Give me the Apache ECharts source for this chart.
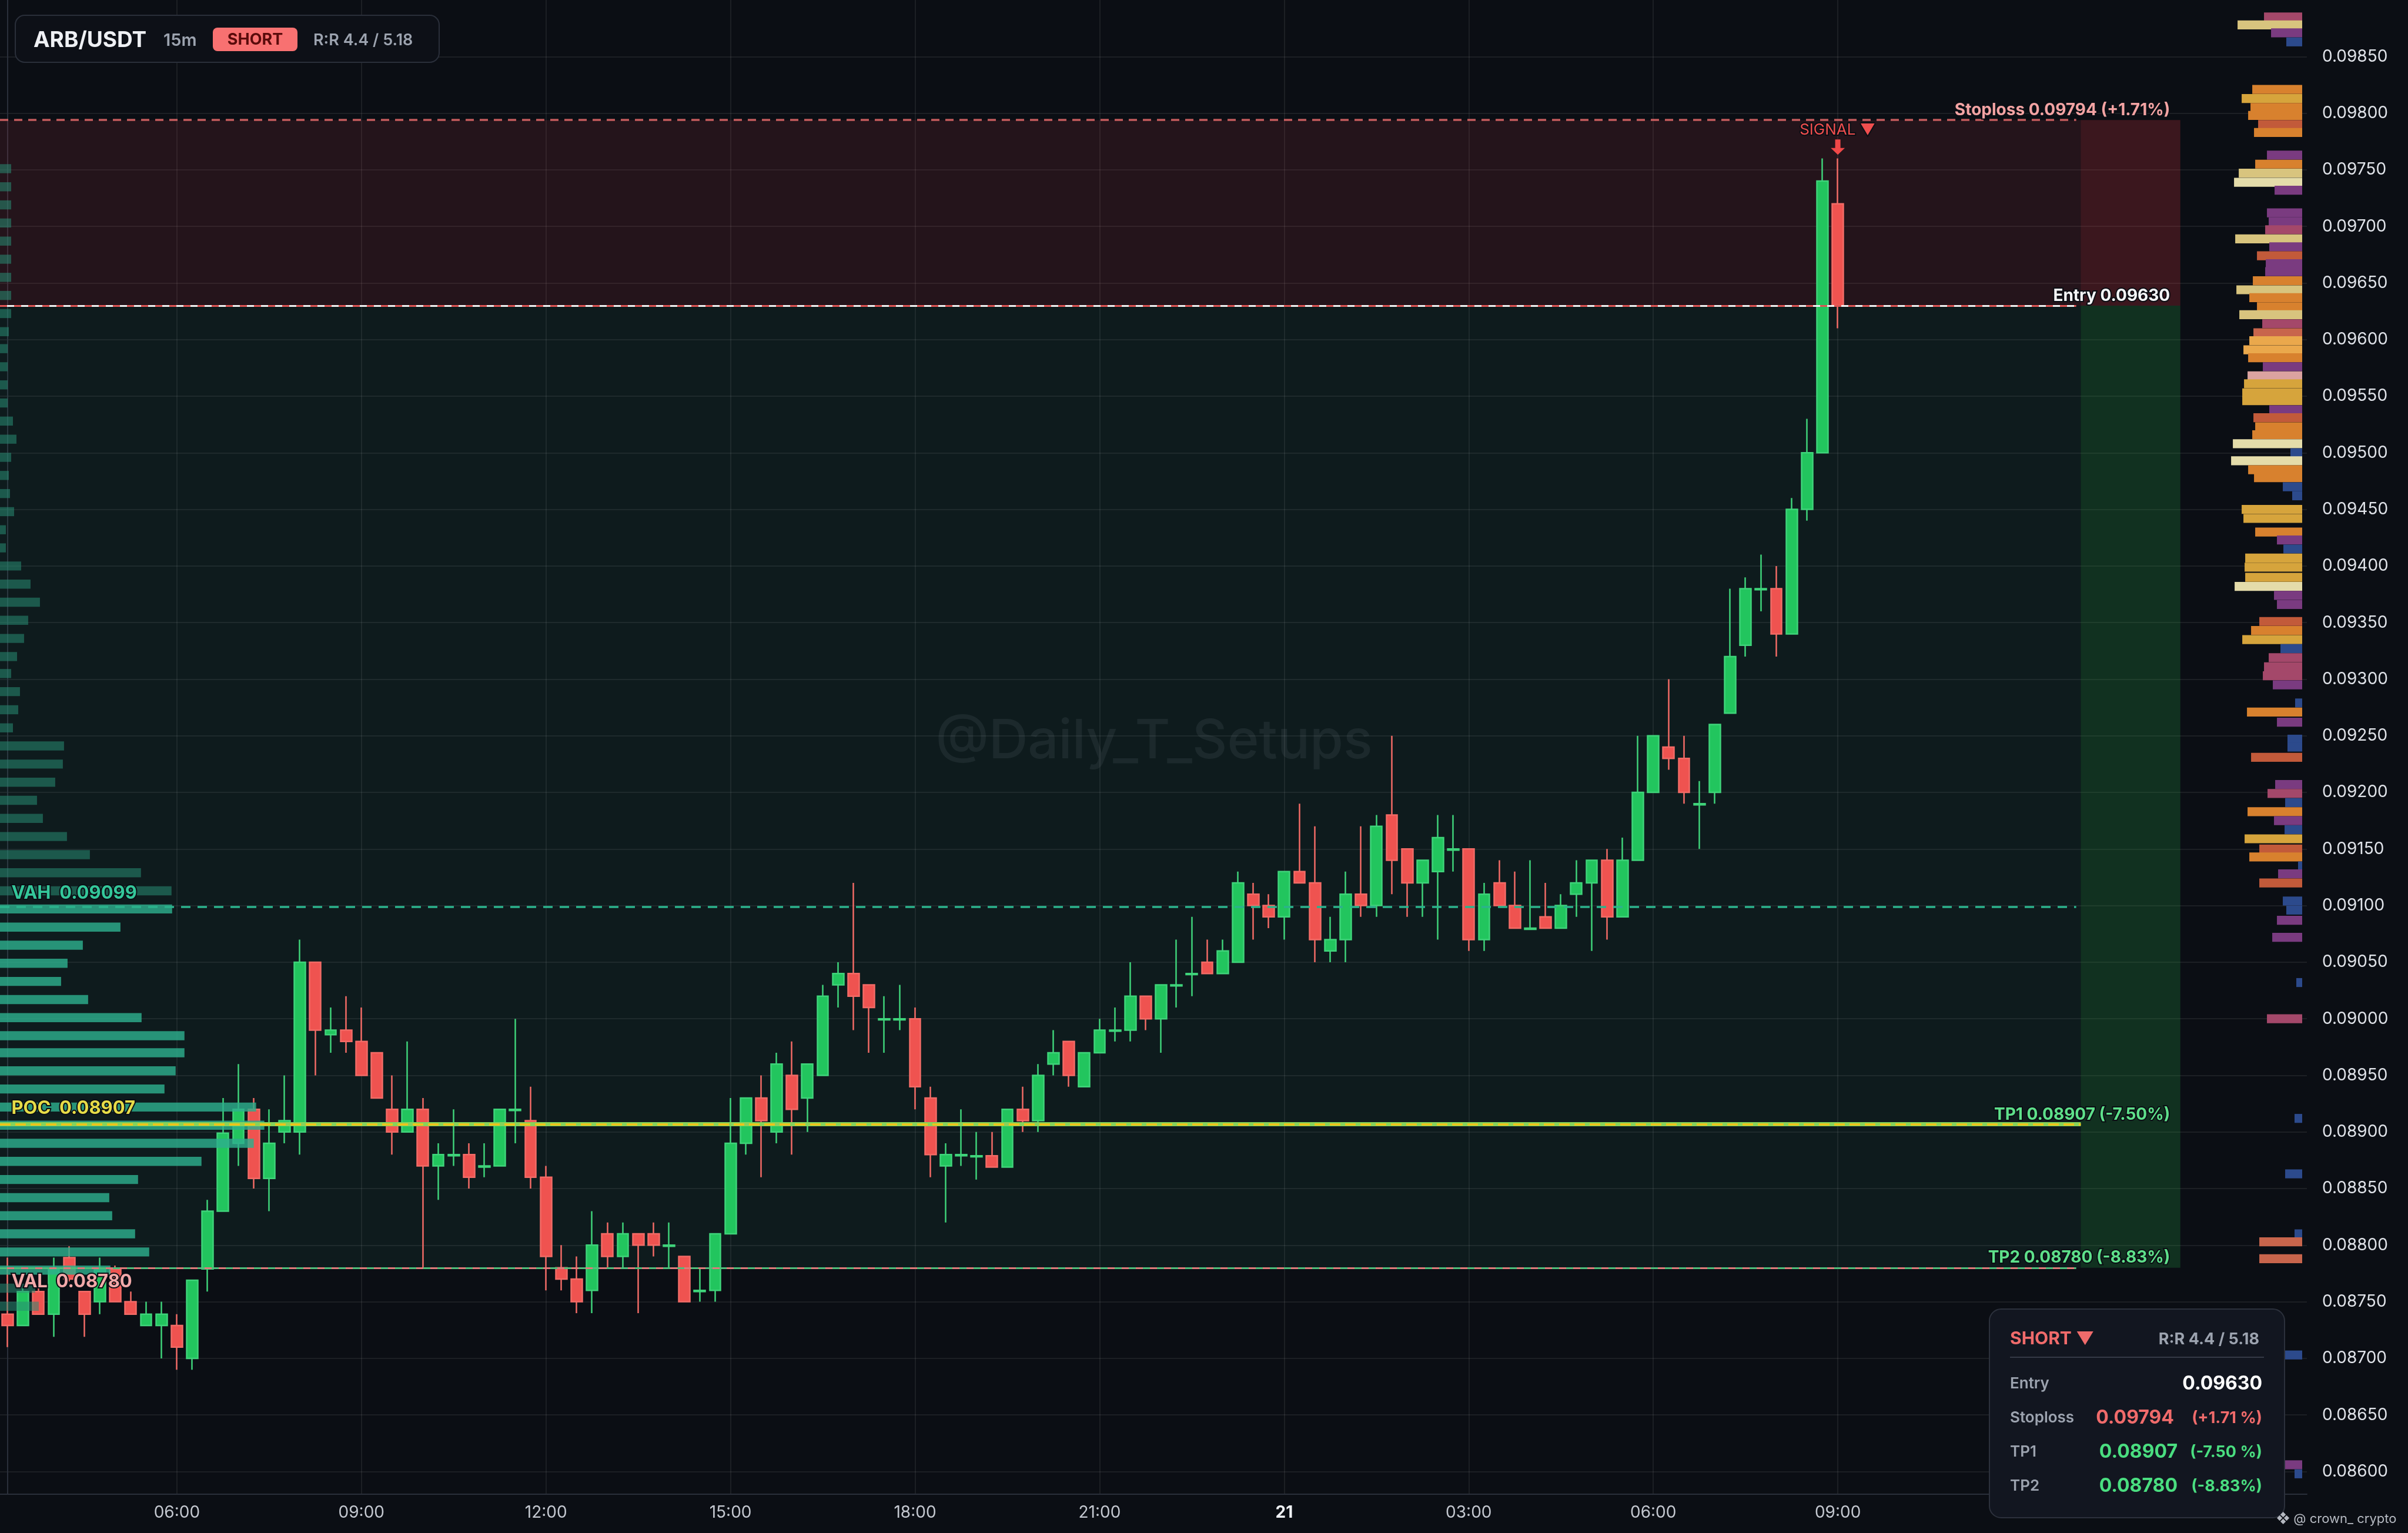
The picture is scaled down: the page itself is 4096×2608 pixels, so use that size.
<!DOCTYPE html>
<html><head><meta charset="utf-8">
<script src="https://cdn.jsdelivr.net/npm/echarts@6/dist/echarts.min.js"></script>
<style>html,body{margin:0;padding:0;background:#0b0e14;}#c{width:4096px;height:2608px;}</style>
</head><body><div id="c"></div>
<script>
// ---------- DATA ----------
const opens = [
0.08739,0.08729,0.08759,0.08739,0.08789,0.08759,0.08750,0.08779,0.08750,0.08729,
0.08729,0.08729,0.08700,0.08779,0.08830,0.08890,0.08920,0.08859,0.08900,0.08900,
0.09050,0.08986,0.08990,0.08980,0.08970,0.08920,0.08900,0.08920,0.08870,0.08879,
0.08880,0.08869,0.08870,0.08919,0.08910,0.08860,0.08780,0.08770,0.08760,0.08810,
0.08790,0.08810,0.08810,0.08799,0.08790,0.08759,0.08760,0.08810,0.08890,0.08930,
0.08900,0.08950,0.08930,0.08950,0.09030,0.09040,0.09030,0.08999,0.08999,0.09000,
0.08930,0.08870,0.08879,0.08878,0.08879,0.08869,0.08920,0.08910,0.08960,0.08980,
0.08940,0.08970,0.08989,0.08990,0.09020,0.09000,0.09029,0.09039,0.09050,0.09040,
0.09050,0.09110,0.09100,0.09090,0.09130,0.09120,0.09060,0.09070,0.09110,0.09100,
0.09180,0.09150,0.09120,0.09130,0.09149,0.09150,0.09070,0.09120,0.09100,0.09079,
0.09090,0.09080,0.09110,0.09120,0.09140,0.09090,0.09140,0.09200,0.09240,0.09230,
0.09189,0.09200,0.09270,0.09330,0.09379,0.09380,0.09340,0.09450,0.09500,0.09720];
const closes = [
0.08729,0.08759,0.08739,0.08779,0.08770,0.08739,0.08779,0.08750,0.08739,0.08739,
0.08739,0.08710,0.08769,0.08830,0.08899,0.08920,0.08859,0.08890,0.08910,0.09050,
0.08990,0.08990,0.08980,0.08950,0.08930,0.08900,0.08920,0.08870,0.08880,0.08880,
0.08860,0.08870,0.08920,0.08920,0.08860,0.08790,0.08770,0.08750,0.08800,0.08790,
0.08810,0.08800,0.08800,0.08800,0.08750,0.08760,0.08810,0.08890,0.08930,0.08910,
0.08960,0.08920,0.08960,0.09020,0.09040,0.09020,0.09010,0.09000,0.09000,0.08940,
0.08880,0.08880,0.08880,0.08879,0.08869,0.08920,0.08910,0.08950,0.08970,0.08950,
0.08970,0.08990,0.08990,0.09020,0.09000,0.09030,0.09030,0.09040,0.09040,0.09060,
0.09120,0.09100,0.09090,0.09130,0.09120,0.09070,0.09070,0.09110,0.09100,0.09170,
0.09140,0.09120,0.09140,0.09160,0.09150,0.09070,0.09110,0.09100,0.09080,0.09080,
0.09080,0.09100,0.09120,0.09140,0.09090,0.09140,0.09200,0.09250,0.09230,0.09200,
0.09190,0.09260,0.09320,0.09380,0.09380,0.09340,0.09450,0.09500,0.09740,0.09630];
const lows = [
0.08710,0.08729,0.08739,0.08719,0.08768,0.08719,0.08739,0.08750,0.08739,0.08729,
0.08700,0.08690,0.08690,0.08759,0.08830,0.08870,0.08850,0.08830,0.08890,0.08880,
0.08950,0.08970,0.08970,0.08950,0.08930,0.08880,0.08900,0.08780,0.08840,0.08870,
0.08850,0.08860,0.08870,0.08890,0.08850,0.08760,0.08760,0.08740,0.08740,0.08780,
0.08780,0.08740,0.08790,0.08780,0.08750,0.08750,0.08750,0.08810,0.08880,0.08860,
0.08890,0.08880,0.08900,0.08950,0.09010,0.08990,0.08970,0.08970,0.08990,0.08920,
0.08860,0.08820,0.08870,0.08858,0.08869,0.08869,0.08900,0.08900,0.08950,0.08940,
0.08940,0.08970,0.08980,0.08980,0.08990,0.08970,0.09010,0.09020,0.09040,0.09040,
0.09050,0.09070,0.09080,0.09070,0.09120,0.09050,0.09050,0.09050,0.09090,0.09090,
0.09110,0.09090,0.09090,0.09070,0.09130,0.09060,0.09060,0.09100,0.09080,0.09080,
0.09080,0.09080,0.09090,0.09060,0.09070,0.09090,0.09140,0.09200,0.09220,0.09190,
0.09150,0.09190,0.09270,0.09320,0.09360,0.09320,0.09340,0.09440,0.09500,0.09610];
const highs = [
0.08789,0.08762,0.08775,0.08789,0.08799,0.08759,0.08789,0.08782,0.08759,0.08750,
0.08750,0.08739,0.08769,0.08840,0.08930,0.08960,0.08930,0.08920,0.08950,0.09070,
0.09050,0.09010,0.09020,0.09010,0.08970,0.08950,0.08980,0.08930,0.08890,0.08920,
0.08890,0.08890,0.08920,0.09000,0.08940,0.08870,0.08800,0.08790,0.08830,0.08820,
0.08820,0.08810,0.08820,0.08820,0.08790,0.08780,0.08810,0.08930,0.08930,0.08950,
0.08970,0.08980,0.08960,0.09030,0.09050,0.09120,0.09030,0.09020,0.09030,0.09010,
0.08940,0.08890,0.08920,0.08900,0.08900,0.08920,0.08940,0.08960,0.08990,0.08980,
0.08970,0.09000,0.09010,0.09050,0.09020,0.09030,0.09070,0.09090,0.09070,0.09070,
0.09130,0.09120,0.09110,0.09130,0.09190,0.09170,0.09090,0.09130,0.09170,0.09180,
0.09250,0.09150,0.09140,0.09180,0.09180,0.09150,0.09120,0.09140,0.09130,0.09140,
0.09120,0.09110,0.09140,0.09140,0.09150,0.09160,0.09250,0.09250,0.09300,0.09250,
0.09210,0.09260,0.09380,0.09390,0.09410,0.09400,0.09460,0.09530,0.09760,0.09760];

// price-axis tick labels
const yTicks = [0.0860,0.0865,0.0870,0.0875,0.0880,0.0885,0.0890,0.0895,0.0900,0.0905,0.0910,0.0915,0.0920,
                0.0925,0.0930,0.0935,0.0940,0.0945,0.0950,0.0955,0.0960,0.0965,0.0970,0.0975,0.0980,0.0985];

// trade levels
const stoploss = 0.09794, entry = 0.09630, tp1 = 0.08907, tp2 = 0.08780;
const vah = 0.09099, poc = 0.08907, val = 0.08780;

// left volume profile (price bin, volume)
const lpPrice = [0.09751,0.09735,0.09719,0.09703,0.09687,0.09671,0.09655,0.09639,0.09623,0.09607,
0.09592,0.09576,0.09560,0.09544,0.09528,0.09512,0.09496,0.09480,0.09464,0.09448,
0.09432,0.09416,0.09400,0.09384,0.09368,0.09352,0.09336,0.09320,0.09305,0.09289,
0.09273,0.09257,0.09241,0.09225,0.09209,0.09193,0.09177,0.09161,0.09145,0.09129,
0.09113,0.09097,0.09081,0.09065,0.09049,0.09033,0.09017,0.09001,0.08985,0.08970,
0.08954,0.08938,0.08922,0.08906,0.08890,0.08874,0.08858,0.08842,0.08826,0.08810,
0.08794,0.08778,0.08762,0.08746];
const lpVol = [19,19,19,19,19,19,19,19,19,15,
13,13,13,13,22,28,19,15,17,24,
10,10,36,52,68,48,41,29,19,34,
31,22,109,107,94,63,73,114,153,240,
292,293,205,141,115,104,150,241,314,314,
299,280,436,450,432,343,235,186,191,230,
254,188,60,66];

// right heat profile (price, size, colour key)
const rpPrice = [0.09885,0.09878,0.09871,0.09863,0.09821,0.09813,0.09805,0.09798,0.09790,0.09783,
0.09763,0.09755,0.09747,0.09739,0.09732,0.09712,0.09704,0.09697,0.09689,0.09682,
0.09674,0.09667,0.09660,0.09652,0.09644,0.09637,0.09629,0.09622,0.09614,0.09606,
0.09599,0.09591,0.09584,0.09576,0.09568,0.09561,0.09553,0.09546,0.09538,0.09531,
0.09523,0.09516,0.09508,0.09500,0.09493,0.09485,0.09478,0.09470,0.09462,0.09450,
0.09442,0.09430,0.09423,0.09415,0.09407,0.09399,0.09390,0.09382,0.09374,0.09366,
0.09351,0.09343,0.09335,0.09327,0.09319,0.09311,0.09303,0.09295,0.09279,0.09271,
0.09262,0.09247,0.09240,0.09231,0.09207,0.09199,0.09191,0.09183,0.09175,0.09167,
0.09159,0.09150,0.09143,0.09135,0.09128,0.09120,0.09104,0.09096,0.09087,0.09072,
0.09032,0.09000,0.08912,0.08863,0.08810,0.08803,0.08788,0.08703,0.08606,0.08598];
const rpSize = [65,110,53,27,85,103,88,92,75,82,
60,80,108,116,47,60,57,63,114,56,
77,62,63,84,112,90,77,107,68,83,
90,100,92,67,93,99,102,102,56,83,
80,85,118,20,121,92,82,33,17,103,
100,80,43,32,97,98,97,115,48,43,
73,87,102,37,57,65,67,50,12,94,
43,25,25,87,46,59,29,93,48,30,
98,73,90,7,41,73,33,27,43,51,
10,60,13,29,13,73,73,30,30,13];
const rpKey = ['K','T','P','B','O','G','O','O','R','O',
'P','O','T','L','P','P','P','K','T','P',
'R','P','P','O','T','O','O','T','K','S',
'Y','Y','O','P','Q','G','G','G','P','R',
'O','O','L','B','L','O','O','B','B','G',
'G','O','P','B','G','G','G','L','P','P',
'R','O','G','B','K','K','K','P','B','O',
'P','B','B','R','P','K','B','O','P','B',
'G','R','O','B','P','R','B','B','P','P',
'B','K','B','B','B','S','S','B','P','B'];

// ---------- BUILD ----------
const palette = {T:'#d8c47e',L:'#e4dcaa',G:'#d6a43c',O:'#d8812e',R:'#c25a3a',P:'#7a3b80',
                 K:'#a4486a',B:'#2c4a8c',S:'#c8654c',Y:'#eaa84c',Q:'#dba3a0'};
const NCAT = 150;
const categories = [];
for (let i = 0; i < NCAT; i++) {
  const m = 195 + 15 * i, d = Math.floor(m / 1440), mm = m % 1440;
  categories.push(mm === 0 ? String(20 + d) :
    String(Math.floor(mm / 60)).padStart(2, '0') + ':' + String(mm % 60).padStart(2, '0'));
}
const lastIdx = opens.length - 1;
const showIdx = (idx) => idx >= 11 && idx <= lastIdx && (idx - 11) % 12 === 0;
const candleData = opens.map((o, i) => [o, closes[i], lows[i], highs[i]]);
const X0 = -0.5, XE = 134.5, XB0 = 134.8, XB1 = 141.27;

function profileRender(binH, off) {
  return function (params, api) {
    const v = api.value(0), p = api.value(1);
    const a = api.coord([off, p]), b = api.coord([off + v, p]);
    const h = api.size([0, binH])[1];
    return {type: 'rect', shape: {x: Math.min(a[0], b[0]), y: a[1] - h / 2, width: Math.abs(b[0] - a[0]), height: h},
            style: {fill: api.visual('color')}};
  };
}
const lpData = lpVol.map((v, i) => ({value: [v, lpPrice[i]],
  itemStyle: {color: (lpPrice[i] <= vah && lpPrice[i] >= val - 0.00002) ? 'rgba(45,175,140,0.82)' : 'rgba(40,140,115,0.55)'}}));
const rpData = rpSize.map((v, i) => ({value: [v, rpPrice[i]], itemStyle: {color: palette[rpKey[i]], opacity: 0.92}}));

function hline(y, x1, x2, style) {
  return [{coord: [x1, y], lineStyle: style}, {coord: [x2, y], lineStyle: style}];
}
const outline = {textBorderColor: '#0b0e14', textBorderWidth: 4};
function lbl(x, y, text, color, align, dy, dx, size, weight) {
  return {coord: [x, y], label: Object.assign({show: true, position: [0, 0], align: align, verticalAlign: 'middle',
    offset: [dx, dy], formatter: text, color: color, fontSize: size || 28, fontWeight: weight || 'bold',
    fontFamily: 'Inter'}, outline)};
}
const FONT = 'Inter';

const option = {
  backgroundColor: '#0b0e14',
  animation: false,
  grid: {left: -3, right: 172, top: 0, bottom: 66},
  xAxis: [
    {type: 'category', data: categories, boundaryGap: true,
     axisLine: {show: true, lineStyle: {color: '#2a2f3a', width: 2}},
     axisTick: {show: false, interval: showIdx, alignWithLabel: true},
     axisLabel: {interval: showIdx, color: '#c4c8d0', fontSize: 28, fontFamily: FONT, margin: 18,
                 formatter: (v) => v === '21' ? '{b|21}' : v,
                 rich: {b: {fontWeight: 'bold', color: '#f0f2f6', fontSize: 28, fontFamily: FONT}}},
     splitLine: {show: true, interval: showIdx, alignWithLabel: true, lineStyle: {color: 'rgba(255,255,255,0.07)', width: 2}}},
    {type: 'value', min: -0.5, max: NCAT - 0.5, show: false},
    {type: 'value', min: 0, max: 3927, show: false},
    {type: 'value', min: 0, max: 3927, inverse: true, show: false}
  ],
  yAxis: {type: 'value', position: 'right', min: 0.0858, max: 0.0990, scale: true,
    axisLine: {show: true, lineStyle: {color: '#2a2f3a', width: 2}},
    axisTick: {show: false, customValues: yTicks},
    axisLabel: {customValues: yTicks, formatter: (v) => v.toFixed(5), color: '#e0e3e9', fontSize: 28,
                fontFamily: FONT, margin: 26},
    splitLine: {show: true, lineStyle: {color: 'rgba(255,255,255,0.07)', width: 2}}},
  series: [
    { // zones
      type: 'line', xAxisIndex: 1, data: [[-10, 0.09]], symbol: 'none', lineStyle: {opacity: 0}, z: 1, silent: true,
      markArea: {silent: true, data: [
        [{coord: [X0, entry], itemStyle: {color: 'rgba(205,60,75,0.13)'}}, {coord: [XB0, stoploss]}],
        [{coord: [XB0, entry], itemStyle: {color: 'rgba(230,60,70,0.22)'}}, {coord: [XB1, stoploss]}],
        [{coord: [X0, tp2], itemStyle: {color: 'rgba(60,200,150,0.07)'}}, {coord: [XB0, entry]}],
        [{coord: [XB0, tp2], itemStyle: {color: 'rgba(45,190,80,0.20)'}}, {coord: [XB1, entry]}]
      ]}
    },
    { // candles
      type: 'candlestick', data: candleData, z: 3, barWidth: '74%',
      itemStyle: {color: '#22c55e', color0: '#ef5350', borderColor: '#3fd37a', borderColor0: '#f26b66', borderWidth: 2.5},
      markLine: {silent: true, symbol: ['none', 'none'], data: [{yAxis: entry}],
        lineStyle: {color: '#ef4444', type: 'dotted', width: 2.5},
        label: {show: true, position: 'end', distance: 2, formatter: '0.09630', color: '#ffffff', fontSize: 28,
                fontFamily: FONT, backgroundColor: '#ef4444', borderRadius: 5, padding: [5, 16, 4, 24]}}
    },
    { // left volume profile
      type: 'custom', xAxisIndex: 2, renderItem: profileRender(0.00008, 0), data: lpData, z: 4, silent: true,
      encode: {x: 0, y: 1}
    },
    { // right heat profile
      type: 'custom', xAxisIndex: 3, renderItem: profileRender(0.000079, 8), data: rpData, z: 4, silent: true,
      encode: {x: 0, y: 1}
    },
    { // lines + labels
      type: 'line', xAxisIndex: 1, data: [[-10, 0.09]], symbol: 'none', lineStyle: {opacity: 0}, z: 6, silent: true,
      markLine: {silent: true, symbol: ['none', 'none'], label: {show: false}, data: [
        hline(stoploss, X0, XE, {color: 'rgba(240,110,110,0.8)', width: 3.5, type: [14, 10]}),
        hline(entry, X0, XE, {color: '#e05555', width: 3, type: [12, 12]}),
        hline(entry, X0, XE, {color: '#f2f2f2', width: 3, type: [12, 12], dashOffset: 12}),
        hline(vah, X0, XE, {color: '#2bb38c', width: 3.5, type: [16, 12]}),
        hline(poc, X0, XB0, {color: '#86d35a', width: 7, type: 'solid'}),
        hline(poc, X0, XB0, {color: '#f2c318', width: 3.5, type: [18, 8]}),
        hline(tp2, X0, XE, {color: '#4fbf7a', width: 3, type: [12, 12]}),
        hline(tp2, X0, XE, {color: '#e07a7a', width: 3, type: [12, 12], dashOffset: 12})
      ]},
      markPoint: {silent: true, symbol: 'circle', symbolSize: 1, itemStyle: {color: 'rgba(0,0,0,0)'}, data: [
        lbl(XB1, stoploss, 'Stoploss 0.09794 (+1.71%)', '#f3a3a3', 'right', -16, -17, 28),
        lbl(XB1, entry, 'Entry 0.09630', '#f5f6f8', 'right', -16, -17, 28),
        lbl(XB1, tp1, 'TP1 0.08907 (-7.50%)', '#5ee08a', 'right', -15, -17, 28),
        lbl(XB1, tp2, 'TP2 0.08780 (-8.83%)', '#5ee08a', 'right', -17, -17, 28),
        lbl(X0, vah, 'VAH  0.09099', '#34c79a', 'left', -22, 20, 31),
        lbl(X0, poc, 'POC  0.08907', '#e6dc48', 'left', -26, 20, 31),
        lbl(X0, val, 'VAL  0.08780', '#f2a9a9', 'left', 24, 20, 31),
        lbl(lastIdx, 0.09785, 'SIGNAL ▼', '#f04e4e', 'center', 0, 0, 26, 'normal'),
        {coord: [lastIdx, 0.09770], symbol: 'path://M5,0 L11,0 L11,11 L16,11 L8,20 L0,11 L5,11 Z',
         symbolSize: [24, 26], itemStyle: {color: '#f04848'}, label: {show: false}}
      ]}
    }
  ],
  graphic: [
    {type: 'text', x: 1963, y: 1262, z: 0, silent: true,
     style: {text: '@Daily_T_Setups', font: '500 92px Inter', fill: 'rgba(200,225,225,0.08)',
             align: 'center', verticalAlign: 'middle', textAlign: 'center', textVerticalAlign: 'middle'}},
    {type: 'group', x: 26, y: 26, z: 100, children: [
      {type: 'rect', z: 100, shape: {x: 0, y: 0, width: 721, height: 80, r: 16}, style: {fill: '#0d1017', stroke: '#2a2f3a', lineWidth: 2}},
      {type: 'text', z: 101, x: 31, y: 43, style: {text: 'ARB/USDT', font: 'bold 37px Inter', fill: '#eef0f4', verticalAlign: 'middle', textVerticalAlign: 'middle'}},
      {type: 'text', z: 101, x: 252, y: 43, style: {text: '15m', font: '600 29px Inter', fill: '#9ca3af', verticalAlign: 'middle', textVerticalAlign: 'middle'}},
      {type: 'rect', z: 101, shape: {x: 336, y: 21, width: 144, height: 40, r: 8}, style: {fill: '#f87171'}},
      {type: 'text', z: 102, x: 408, y: 42, style: {text: 'SHORT', font: 'bold 27px Inter', fill: '#5a0b0b', align: 'center', verticalAlign: 'middle', textAlign: 'center', textVerticalAlign: 'middle'}},
      {type: 'text', z: 101, x: 507, y: 43, style: {text: 'R:R 4.4 / 5.18', font: '600 27px Inter', fill: '#9ca3af', verticalAlign: 'middle', textVerticalAlign: 'middle'}}
    ]},
    {type: 'group', x: 3384, y: 2227, z: 100, children: [
      {type: 'rect', z: 100, shape: {x: 0, y: 0, width: 502, height: 355, r: 20}, style: {fill: '#121620', stroke: '#2c313c', lineWidth: 2}},
      {type: 'text', z: 101, x: 35, y: 51, style: {text: 'SHORT ▼', font: 'bold 30px Inter', fill: '#f06b6b', verticalAlign: 'middle', textVerticalAlign: 'middle'}},
      {type: 'text', z: 101, x: 459, y: 52, style: {text: 'R:R 4.4 / 5.18', font: 'bold 27px Inter', fill: '#9ca3af', align: 'right', textAlign: 'right', verticalAlign: 'middle', textVerticalAlign: 'middle'}},
      {type: 'line', z: 101, shape: {x1: 35, y1: 82, x2: 467, y2: 82}, style: {stroke: '#353a46', lineWidth: 2}},
      {type: 'text', z: 101, x: 35, y: 127, style: {text: 'Entry', font: '600 26px Inter', fill: '#9ca3af', verticalAlign: 'middle', textVerticalAlign: 'middle'}},
      {type: 'text', z: 101, x: 464, y: 127, style: {text: '0.09630', font: 'bold 32px Inter', fill: '#ffffff', align: 'right', textAlign: 'right', verticalAlign: 'middle', textVerticalAlign: 'middle'}},
      {type: 'text', z: 101, x: 35, y: 185, style: {text: 'Stoploss', font: '600 26px Inter', fill: '#9ca3af', verticalAlign: 'middle', textVerticalAlign: 'middle'}},
      {type: 'text', z: 101, x: 314, y: 185, style: {text: '0.09794', font: 'bold 32px Inter', fill: '#f06b6b', align: 'right', textAlign: 'right', verticalAlign: 'middle', textVerticalAlign: 'middle'}},
      {type: 'text', z: 101, x: 464, y: 186, style: {text: '(+1.71 %)', font: 'bold 27px Inter', fill: '#f06b6b', align: 'right', textAlign: 'right', verticalAlign: 'middle', textVerticalAlign: 'middle'}},
      {type: 'text', z: 101, x: 35, y: 243, style: {text: 'TP1', font: '600 26px Inter', fill: '#9ca3af', verticalAlign: 'middle', textVerticalAlign: 'middle'}},
      {type: 'text', z: 101, x: 320, y: 243, style: {text: '0.08907', font: 'bold 32px Inter', fill: '#4ade80', align: 'right', textAlign: 'right', verticalAlign: 'middle', textVerticalAlign: 'middle'}},
      {type: 'text', z: 101, x: 464, y: 244, style: {text: '(-7.50 %)', font: 'bold 27px Inter', fill: '#4ade80', align: 'right', textAlign: 'right', verticalAlign: 'middle', textVerticalAlign: 'middle'}},
      {type: 'text', z: 101, x: 35, y: 301, style: {text: 'TP2', font: '600 26px Inter', fill: '#9ca3af', verticalAlign: 'middle', textVerticalAlign: 'middle'}},
      {type: 'text', z: 101, x: 320, y: 301, style: {text: '0.08780', font: 'bold 32px Inter', fill: '#4ade80', align: 'right', textAlign: 'right', verticalAlign: 'middle', textVerticalAlign: 'middle'}},
      {type: 'text', z: 101, x: 464, y: 302, style: {text: '(-8.83%)', font: 'bold 27px Inter', fill: '#4ade80', align: 'right', textAlign: 'right', verticalAlign: 'middle', textVerticalAlign: 'middle'}}
    ]},
    {type: 'text', x: 3872, y: 2584, z: 100, silent: true,
     style: {text: '❖ @ crown_ crypto', font: '22px Inter', fill: '#b5b9c1', verticalAlign: 'middle', textVerticalAlign: 'middle'}}
  ]
};
const chart = echarts.init(document.getElementById('c'), null, {renderer: 'canvas'});
chart.setOption(option);
</script></body></html>
